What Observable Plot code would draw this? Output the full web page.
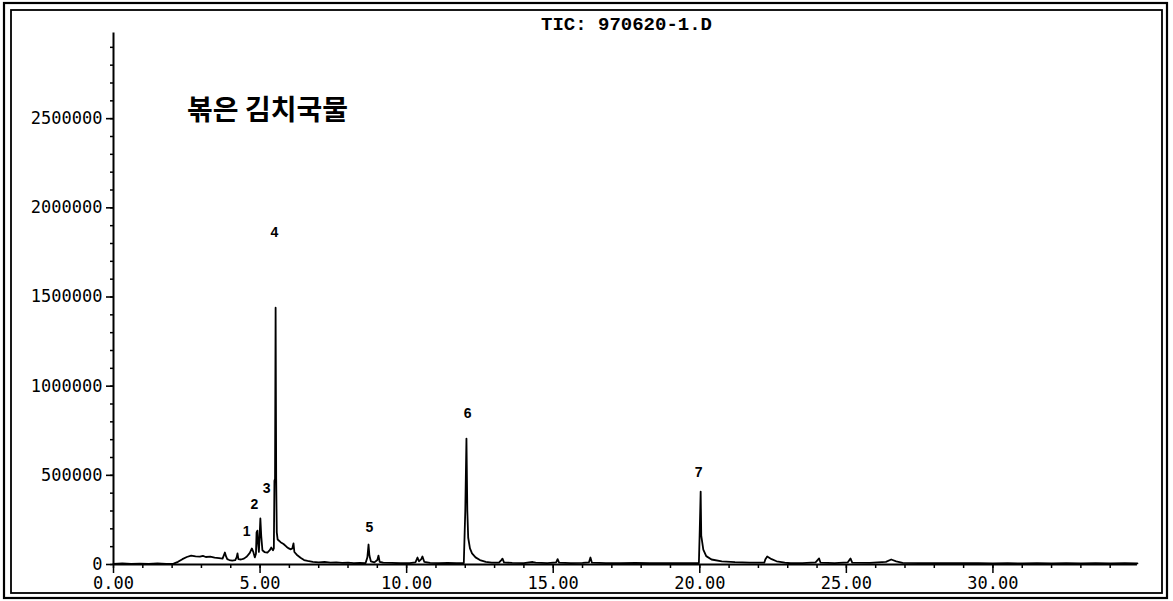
<!DOCTYPE html>
<html><head><meta charset="utf-8">
<script src="https://cdn.jsdelivr.net/npm/d3@7"></script>
<script src="https://cdn.jsdelivr.net/npm/@observablehq/plot@0.6"></script>
<style>
html,body{margin:0;padding:0;background:#fff;}
#chart{position:relative;width:1173px;height:601px;}
</style></head><body><div id="chart"></div>
<script>
// Retention time (min) and total ion current
const times = [0.00,0.30,0.60,0.90,1.20,1.50,1.80,2.05,2.20,2.35,2.50,2.65,2.80,2.95,3.05,3.15,3.30,3.45,3.60,3.72,3.76,3.80,3.84,3.88,3.95,4.05,4.15,4.20,4.23,4.26,4.35,4.45,4.55,4.65,4.72,4.77,4.82,4.86,4.88,4.91,4.93,4.96,4.99,5.01,5.04,5.08,5.15,5.25,5.33,5.38,5.44,5.47,5.49,5.51,5.53,5.55,5.57,5.60,5.70,5.80,5.90,5.98,6.05,6.10,6.14,6.17,6.25,6.38,6.50,6.62,6.80,7.00,7.20,7.40,7.60,7.80,8.00,8.20,8.40,8.60,8.66,8.70,8.73,8.78,8.90,9.00,9.04,9.08,9.20,9.50,9.80,10.10,10.30,10.37,10.42,10.50,10.54,10.60,10.80,11.10,11.40,11.70,11.95,12.00,12.04,12.07,12.10,12.16,12.23,12.35,12.50,12.70,12.90,13.15,13.23,13.27,13.32,13.60,14.00,14.30,14.40,14.80,15.10,15.15,15.20,15.60,16.00,16.22,16.27,16.32,16.80,17.30,17.80,18.30,18.80,19.30,19.70,19.97,20.00,20.03,20.05,20.12,20.22,20.40,20.75,21.20,21.70,22.20,22.24,22.30,22.45,22.62,22.90,23.10,23.50,23.95,24.07,24.12,24.60,25.05,25.14,25.20,25.80,26.35,26.53,26.70,26.92,27.50,28.00,28.50,29.00,29.50,30.00,30.50,31.00,31.50,32.00,32.50,33.00,33.50,34.00,34.50,34.93];
const intensities = [4000,6000,3000,5000,4000,6000,3000,5000,15000,30000,42000,50000,46000,44000,48000,42000,44000,38000,36000,33000,50000,67000,45000,30000,25000,22000,24000,40000,62000,30000,28000,33000,45000,65000,90000,70000,40000,60000,180000,190000,120000,70000,180000,258000,160000,80000,70000,67000,80000,95000,80000,90000,470000,480000,1440000,480000,180000,140000,125000,115000,100000,90000,85000,90000,118000,70000,55000,38000,25000,20000,15000,12000,14000,10000,12000,9000,10000,8000,9000,8000,40000,112000,50000,18000,12000,25000,50000,15000,10000,9000,7000,8000,12000,39000,18000,30000,45000,15000,9000,8000,9000,7000,8000,300000,706000,300000,150000,90000,62000,40000,25000,15000,11000,10000,25000,33000,12000,9000,8000,14000,10000,8000,12000,30000,10000,8000,9000,12000,39000,10000,8000,7000,9000,8000,7000,8000,7000,8000,200000,409000,162000,84000,47000,28000,18000,13000,11000,10000,30000,45000,30000,18000,10000,7000,8000,12000,34000,10000,8000,12000,34000,10000,9000,15000,28000,18000,9000,8000,7000,8000,7000,8000,6000,7000,6000,7000,6000,7000,6000,7000,6000,7000,6000];

// Peak numbers and where they sit
const peakNumbers = ["1","2","3","4","5","6","7"];
const peakLabelTimes = [4.54,4.81,5.22,5.49,8.73,12.08,19.96];
const peakLabelIntensities = [185000,336000,426000,1861000,207000,846000,516000];

// Axis ticks
const xMajorTicks = [0,5,10,15,20,25,30];
const xMinorTicks = [0,1,2,3,4,5,6,7,8,9,10,11,12,13,14,15,16,17,18,19,20,21,22,23,24,25,26,27,28,29,30,31,32,33,34];
const yMajorTicks = [0,500000,1000000,1500000,2000000,2500000];
const yMinorTicks = [0,100000,200000,300000,400000,500000,600000,700000,800000,900000,1000000,1100000,1200000,1300000,1400000,1500000,1600000,1700000,1800000,1900000,2000000,2100000,2200000,2300000,2400000,2500000,2600000,2700000,2800000,2900000];

const titleText = "TIC: 970620-1.D";
const sampleText = "볶은 김치국물";

const trace = times.map((t, i) => ({t, v: intensities[i]}));
const peaks = peakNumbers.map((n, i) => ({n, t: peakLabelTimes[i], v: peakLabelIntensities[i]}));
const traceEnd = times[times.length - 1];
const yAxisTop = 2980000;

const mono = "DejaVu Sans Mono, monospace";

const svg = Plot.plot({
  width: 1173, height: 601,
  marginLeft: 113, marginRight: 34, marginTop: 29, marginBottom: 37,
  x: {domain: [0, 35], label: null},
  y: {domain: [0, 3000000], label: null},
  style: {background: "white", color: "black"},
  marks: [
    Plot.axisY({ticks: yMinorTicks, tickSize: 3, text: null, strokeWidth: 1.5, label: null}),
    Plot.axisY({ticks: yMajorTicks, tickSize: 7, tickPadding: 4, tickFormat: d => String(d), fontSize: 17, fontFamily: mono, strokeWidth: 1.6, label: null, style: {letterSpacing: "0.8px"}}),
    Plot.axisX({ticks: xMinorTicks, tickSize: 4, text: null, strokeWidth: 1.5, label: null}),
    Plot.axisX({ticks: xMajorTicks, tickSize: 9, tickPadding: 3, tickFormat: d3.format(".2f"), fontSize: 17, fontFamily: mono, strokeWidth: 1.5, label: null}),
    Plot.ruleX([0], {y1: 0, y2: yAxisTop, strokeWidth: 2}),
    Plot.ruleY([0], {x1: 0, x2: traceEnd, strokeWidth: 1.8}),
    Plot.line(trace, {x: "t", y: "v", stroke: "black", strokeWidth: 1.8}),
    Plot.text(peaks, {x: "t", y: "v", text: "n", fontSize: 14, fontWeight: "bold", fontFamily: "Liberation Sans, Arial, sans-serif"}),
    Plot.text([titleText], {frameAnchor: "top", dy: -13, fontSize: 19, fontWeight: "bold", fontFamily: "Liberation Mono, monospace"}),
    Plot.text([sampleText], {frameAnchor: "top-left", dx: 154, dy: 71, textAnchor: "middle", fontSize: 28, fontWeight: "bold", fontFamily: "Noto Sans CJK KR, sans-serif"})
  ]
});

const s = d3.select(svg);
s.append("rect").attr("x", 4).attr("y", 3).attr("width", 1163).attr("height", 595)
  .attr("fill", "none").attr("stroke", "black").attr("stroke-width", 2.2);
s.append("rect").attr("x", 11).attr("y", 10).attr("width", 1151).attr("height", 583)
  .attr("fill", "none").attr("stroke", "black").attr("stroke-width", 1.8);

document.getElementById("chart").appendChild(svg);
</script></body></html>
